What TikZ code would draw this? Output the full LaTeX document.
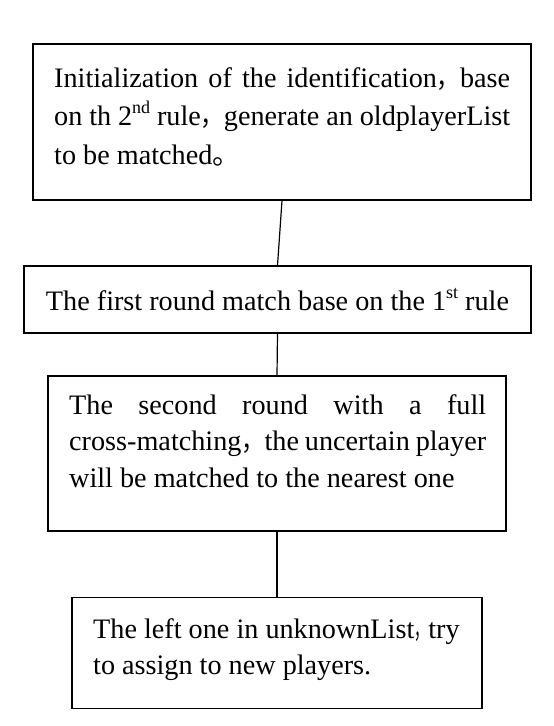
\documentclass[tikz,border=0pt]{standalone}
\usepackage{fontspec}
\setmainfont{Liberation Serif}
\newfontfamily\cjk{Noto Sans CJK SC}
\usepackage{graphicx}
\usepackage{tikz}

\hyphenpenalty=10000
\exhyphenpenalty=10000
\newcommand{\fwcomma}[1][0.82]{\scalebox{#1}[1]{\cjk ，}}
\newcommand{\ordsup}[1]{\raisebox{0.42em}{\fontsize{18}{18}\selectfont #1}}

\begin{document}
\begin{tikzpicture}[x=1pt, y=-1pt,
  stepbox/.style={draw, line width=1.2pt, inner sep=0pt},
  steptext/.style={anchor=north west, inner sep=0pt, align=justify, font=\fontsize{28.2}{38.7}\selectfont}]
  \useasboundingbox (0,0) rectangle (554,726);

  \node[stepbox, minimum width=498, minimum height=156] (init) at (282,122) {};
  \node[steptext, text width=456] (initText) at (54,67)
    {Initialization of the identification\fwcomma base\linebreak
     on th 2\ordsup{nd} rule\fwcomma generate an oldplayerList\linebreak
     to be matched{\cjk 。}};

  \node[stepbox, minimum width=507, minimum height=67, font=\fontsize{28.2}{38.7}\selectfont] (first) at (277.5,299.5)
    {The first round match base on the 1\ordsup{st} rule};

  \node[stepbox, minimum width=458, minimum height=155] (second) at (277,453.5) {};
  \node[steptext, text width=417, font=\fontsize{28.2}{36.6}\selectfont] (secondText) at (69,394)
    {The second round with a full\linebreak
     cross-matching\fwcomma the uncertain player\linebreak
     will be matched to the nearest one};

  \node[stepbox, minimum width=410, minimum height=111] (left) at (277,653) {};
  \node[steptext, align=left, font=\fontsize{28.2}{36.6}\selectfont] (leftText) at (93,618)
    {The left one in unknownList\fwcomma[0.5]try\\
     to assign to new players.};

  \draw[line width=1.2pt] (init.south) -- (first.north);
  \draw[line width=1.2pt] (first.south) -- (second.north);
  \draw[line width=1.2pt] (second.south) -- (left.north);
\end{tikzpicture}
\end{document}
